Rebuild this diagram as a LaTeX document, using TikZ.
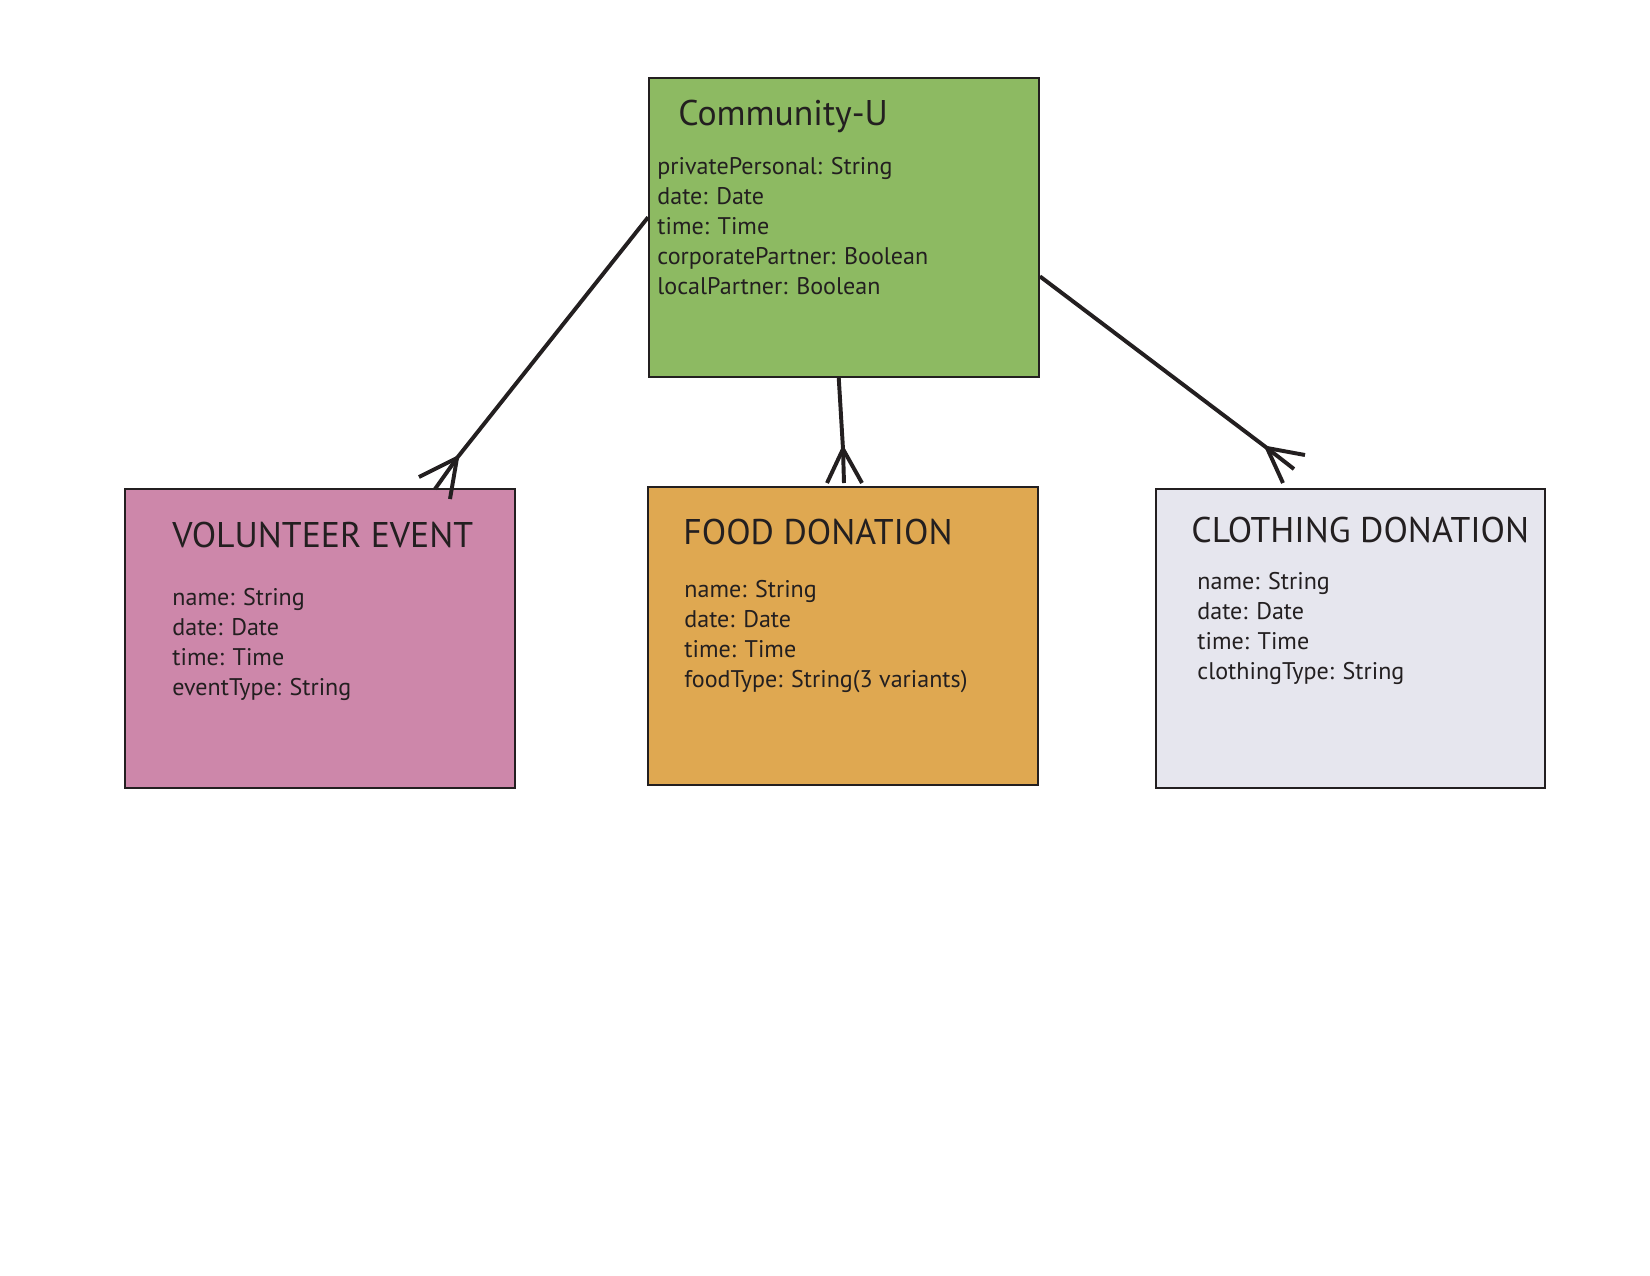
\documentclass[tikz,border=0pt]{standalone}
\usepackage{fontspec}
\setmainfont{PT Sans}
\usepackage{tikz}
\usepackage{xcolor}
\definecolor{ink}{HTML}{231F20}
\definecolor{cugreen}{HTML}{8DBA62}
\definecolor{vepink}{HTML}{CD87AA}
\definecolor{fdorange}{HTML}{DFA851}
\definecolor{cdgrey}{HTML}{E6E6EE}
\tikzstyle{entity} = [rectangle, draw = ink, line width = 1pt, minimum width = 66mm, minimum height = 50.6mm, inner sep = 0pt]
\tikzstyle{title} = [anchor = base west, inner sep = 0pt, text = ink, font = \fontsize{17.2}{19}\selectfont]
\tikzstyle{attrs} = [anchor = base west, inner sep = 0pt, text = ink, align = left, font = \fontsize{11.6}{14.4}\selectfont]
\tikzstyle{link} = [draw = ink, line width = 1.9pt]

\begin{document}
\begin{tikzpicture}[x = 0.16933mm, y = -0.16933mm]
        \useasboundingbox (0, 0) rectangle (1650, 1275);
        \node (cu) at (844, 227.5) [entity, fill = cugreen] {};
        \node (ve) at (320, 638.5) [entity, fill = vepink] {};
        \node (fd) at (843, 636) [entity, fill = fdorange] {};
        \node (cd) at (1350.5, 638.5) [entity, fill = cdgrey] {};
        \node (cuT) at (678, 125) [title] {Community-U};
        \node (cuA) at (657, 294) [attrs] {privatePersonal: String\\date: Date\\time: Time\\corporatePartner: Boolean\\localPartner: Boolean};
        \node (veT) at (172, 547) [title] {VOLUNTEER EVENT};
        \node (veA) at (172, 695) [attrs] {name: String\\date: Date\\time: Time\\eventType: String};
        \node (fdT) at (683, 544) [title] {FOOD DONATION};
        \node (fdA) at (684, 687.5) [attrs] {name: String\\date: Date\\time: Time\\foodType: String(3 variants)};
        \node (cdT) at (1191, 542) [title] {CLOTHING DONATION};
        \node (cdA) at (1197, 679.5) [attrs] {name: String\\date: Date\\time: Time\\clothingType: String};
        \coordinate (jve) at (457, 458);
        \coordinate (ve1) at (419, 477);
        \coordinate (ve2) at (435, 489);
        \coordinate (ve3) at (450, 499);
        \coordinate (jfd) at (843, 449);
        \coordinate (fd1) at (827, 483);
        \coordinate (fd2) at (844, 483);
        \coordinate (fd3) at (862, 483);
        \coordinate (jcd) at (1267, 448);
        \coordinate (cd1) at (1305, 455);
        \coordinate (cd2) at (1294, 469);
        \coordinate (cd3) at (1283, 483);
        \draw [link] (cu.177) -- (jve);
        \draw [link] (jve) -- (ve1);
        \draw [link] (jve) -- (ve2);
        \draw [link] (jve) -- (ve3);
        \draw [link] (cu.268) -- (jfd);
        \draw [link] (jfd) -- (fd1);
        \draw [link] (jfd) -- (fd2);
        \draw [link] (jfd) -- (fd3);
        \draw [link] (cu.346) -- (jcd);
        \draw [link] (jcd) -- (cd1);
        \draw [link] (jcd) -- (cd2);
        \draw [link] (jcd) -- (cd3);
    \end{tikzpicture}
\end{document}
